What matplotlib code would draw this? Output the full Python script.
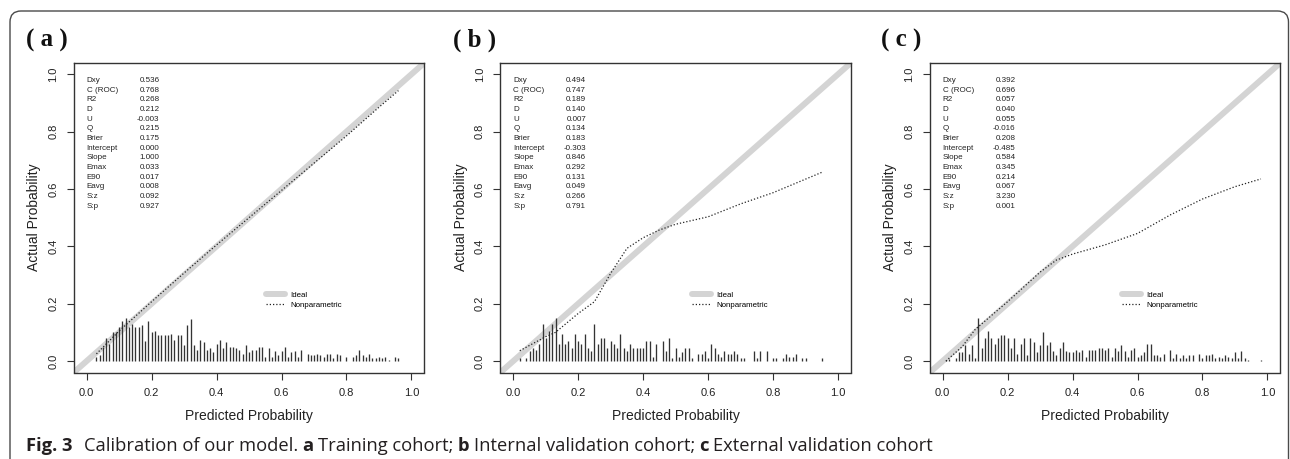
import numpy as np
import matplotlib
matplotlib.use("Agg")
import matplotlib.pyplot as plt
from matplotlib.patches import FancyBboxPatch

plt.rcParams['font.family'] = ['Liberation Sans', 'DejaVu Sans']

# statistics printed in each panel
stat_names = ["Dxy", "C (ROC)", "R2", "D", "U", "Q", "Brier", "Intercept",
              "Slope", "Emax", "E90", "Eavg", "S:z", "S:p"]
stats_a = ["0.536", "0.768", "0.268", "0.212", "-0.003", "0.215", "0.175",
           "0.000", "1.000", "0.033", "0.017", "0.008", "0.092", "0.927"]
stats_b = ["0.494", "0.747", "0.189", "0.140", "0.007", "0.134", "0.183",
           "-0.303", "0.846", "0.292", "0.131", "0.049", "0.266", "0.791"]
stats_c = ["0.392", "0.696", "0.057", "0.040", "0.055", "-0.016", "0.208",
           "-0.485", "0.584", "0.345", "0.214", "0.067", "3.230", "0.001"]

# nonparametric calibration curves (predicted, actual)
curve_a_x = [0.03, 0.10, 0.20, 0.30, 0.40, 0.50, 0.60, 0.70, 0.80, 0.90, 0.96]
curve_a_y = [0.025, 0.105, 0.207, 0.307, 0.405, 0.50, 0.595, 0.69, 0.785, 0.885, 0.943]
curve_b_x = [0.02, 0.10, 0.13, 0.20, 0.25, 0.30, 0.35, 0.40, 0.45, 0.50, 0.60, 0.70, 0.80, 0.95]
curve_b_y = [0.036, 0.085, 0.100, 0.166, 0.207, 0.306, 0.393, 0.430, 0.457, 0.477, 0.503, 0.548, 0.587, 0.658]
curve_c_x = [0.01, 0.06, 0.10, 0.20, 0.30, 0.35, 0.40, 0.50, 0.60, 0.70, 0.80, 0.90, 0.98]
curve_c_y = [0.0, 0.05, 0.11, 0.207, 0.31, 0.352, 0.373, 0.405, 0.445, 0.509, 0.565, 0.608, 0.635]

# spike histogram heights, one per 0.01 bin starting at 0.00
spikes_a = [0, 0, 0, 0.013, 0.02, 0.05, 0.08, 0.06, 0.10, 0.10,
            0.12, 0.14, 0.15, 0.12, 0.13, 0.12, 0.12, 0.125, 0.07, 0.14,
            0.10, 0.105, 0.09, 0.09, 0.09, 0.09, 0.095, 0.075, 0.09, 0.09,
            0.055, 0.125, 0.145, 0.055, 0.04, 0.075, 0.065, 0.04, 0.045, 0.03,
            0.06, 0.075, 0.045, 0.065, 0.05, 0.05, 0.045, 0.04, 0.025, 0.055,
            0.03, 0.04, 0.04, 0.05, 0.05, 0.015, 0.045, 0.015, 0.035, 0.02,
            0.035, 0.05, 0.015, 0.03, 0.035, 0.015, 0.04, 0, 0.025, 0.02,
            0.02, 0.025, 0.02, 0.015, 0.025, 0.025, 0.01, 0.025, 0.02, 0,
            0.015, 0, 0.015, 0.02, 0.04, 0.02, 0.015, 0.025, 0.01, 0.01,
            0.015, 0.01, 0.015, 0.005, 0, 0.015, 0.01]
spikes_b = [0, 0, 0.01, 0, 0.01, 0.035, 0.045, 0.04, 0.06, 0.13,
            0.08, 0.105, 0.13, 0.15, 0.06, 0.095, 0.06, 0.07, 0.045, 0.095,
            0.07, 0.06, 0.095, 0.045, 0.035, 0.13, 0.06, 0.08, 0.08, 0.045,
            0.07, 0.06, 0.045, 0.095, 0.045, 0.035, 0.06, 0.045, 0.045, 0.045,
            0.045, 0.07, 0.07, 0.015, 0.06, 0, 0.07, 0.035, 0.08, 0.01,
            0.045, 0.015, 0.03, 0.045, 0.045, 0.01, 0, 0.025, 0.025, 0.035,
            0.01, 0.06, 0.045, 0.025, 0.015, 0.035, 0.025, 0.025, 0.035, 0.025,
            0.01, 0.01, 0, 0, 0.035, 0.01, 0.035, 0, 0.035, 0,
            0.01, 0.01, 0, 0.01, 0.025, 0.015, 0.015, 0.025, 0, 0.01,
            0.01, 0, 0, 0, 0, 0.01]
spikes_c = [0, 0.005, 0.008, 0, 0.01, 0.03, 0.03, 0.055, 0.025, 0.055,
            0.01, 0.15, 0.045, 0.08, 0.105, 0.08, 0.06, 0.08, 0.09, 0.09,
            0.08, 0.045, 0.08, 0.025, 0.06, 0.08, 0.02, 0.08, 0.065, 0.03,
            0.055, 0.10, 0.055, 0.065, 0.035, 0.02, 0.045, 0.065, 0.035, 0.03,
            0.03, 0.04, 0.03, 0.04, 0.015, 0.04, 0.04, 0.04, 0.045, 0.045,
            0.04, 0.045, 0.015, 0.045, 0.035, 0.055, 0.035, 0.015, 0.04, 0.045,
            0.015, 0.02, 0.03, 0.06, 0.06, 0.02, 0.02, 0.015, 0.025, 0,
            0.04, 0.01, 0.025, 0.01, 0.02, 0.01, 0.02, 0.02, 0, 0.025,
            0.01, 0.02, 0.02, 0.025, 0.01, 0.015, 0.01, 0.02, 0.015, 0.01,
            0.03, 0.01, 0.035, 0.01, 0.005, 0, 0, 0, 0.005]

panels = [("( a )", stats_a, curve_a_x, curve_a_y, spikes_a),
          ("( b )", stats_b, curve_b_x, curve_b_y, spikes_b),
          ("( c )", stats_c, curve_c_x, curve_c_y, spikes_c)]

W, H = 1290, 459
fig = plt.figure(figsize=(W / 100, H / 100), dpi=100)

# outer rounded frame (bottom runs off the page)
frame = FancyBboxPatch((0.10, -0.5), 12.885 - 0.10, 4.48 + 0.5,
                       boxstyle="round,pad=0,rounding_size=0.11",
                       transform=fig.dpi_scale_trans, fill=False,
                       edgecolor="#4a4a4a", linewidth=1.0)
fig.patches.append(frame)

ax_left_px = [73.7, 500.3, 929.7]
ax_w_px, ax_top_px, ax_h_px = 350.7, 62.8, 309.7
label_x_px = [26, 453, 881]
txt_col = "#222222"

for i, (lab, vals, cx, cy, sp) in enumerate(panels):
    ax = fig.add_axes([ax_left_px[i] / W, 1 - (ax_top_px + ax_h_px) / H,
                       ax_w_px / W, ax_h_px / H])
    ax.set_xlim(-0.04, 1.04)
    ax.set_ylim(-0.04, 1.04)
    ideal, = ax.plot([-0.1, 1.1], [-0.1, 1.1], color="#d4d4d4", lw=4.3,
                     solid_capstyle="round", label="Ideal", zorder=1)
    nonpar, = ax.plot(cx, cy, color="#222222", lw=0.9,
                      linestyle=(0, (1, 1.6)), label="Nonparametric", zorder=3)
    bins = np.round(np.arange(len(sp)) * 0.01, 2)
    sp = np.array(sp)
    keep = sp > 0
    ax.vlines(bins[keep], 0, sp[keep], color="#333333", lw=0.95, zorder=2)

    for k, (nm, v) in enumerate(zip(stat_names, vals)):
        yy = 0.978 - k * 0.0337
        ax.text(0.0, yy, nm, fontsize=5.8, color=txt_col, ha="left", va="center")
        ax.text(0.224, yy, v, fontsize=5.8, color=txt_col, ha="right", va="center")

    ax.legend(handles=[ideal, nonpar], loc="center left",
              bbox_to_anchor=(0.547, 0.234), frameon=False, fontsize=5.7,
              handlelength=2.4, handletextpad=0.7, labelspacing=0.35,
              borderaxespad=0, borderpad=0)

    ticks = [0.0, 0.2, 0.4, 0.6, 0.8, 1.0]
    ax.set_xticks(ticks)
    ax.set_yticks(ticks)
    ax.set_xticklabels([f"{t:.1f}" for t in ticks])
    ax.set_yticklabels([f"{t:.1f}" for t in ticks], rotation=90, va="center")
    ax.tick_params(length=5, width=0.8, color="#333333", labelsize=8,
                   labelcolor=txt_col, pad=6)
    for s in ax.spines.values():
        s.set_color("#333333")
        s.set_linewidth(1.0)
    ax.set_xlabel("Predicted Probability", fontsize=10, color=txt_col, labelpad=8)
    ax.set_ylabel("Actual Probability", fontsize=10, color=txt_col, labelpad=5)

    fig.text(label_x_px[i] / W, 1 - 40 / H, lab, fontsize=18, fontweight="bold",
             family=["Liberation Serif", "DejaVu Serif"], color="#111111",
             ha="left", va="center")

# caption with mixed weights, pieces chained left to right
cap_parts = [("Fig. 3", "bold", 0), ("Calibration of our model.", "normal", 8),
             ("a", "bold", 3.2), ("Training cohort;", "normal", 3.2),
             ("b", "bold", 3.2), ("Internal validation cohort;", "normal", 3.2),
             ("c", "bold", 3.2), ("External validation cohort", "normal", 3.2)]
last = None
for txt, wt, gap in cap_parts:
    kw = dict(fontsize=13.2, fontweight=wt, color="#231f20",
              family=["Open Sans", "DejaVu Sans"], ha="left")
    if last is None:
        last = fig.text(26 / W, 1 - 451 / H, txt, va="baseline", **kw)
    else:
        last = plt.annotate(txt, xy=(1, 0), xycoords=last, xytext=(gap, 0),
                            textcoords="offset points", annotation_clip=False,
                            va="bottom", **kw)

fig.savefig("out.png", dpi=100)
